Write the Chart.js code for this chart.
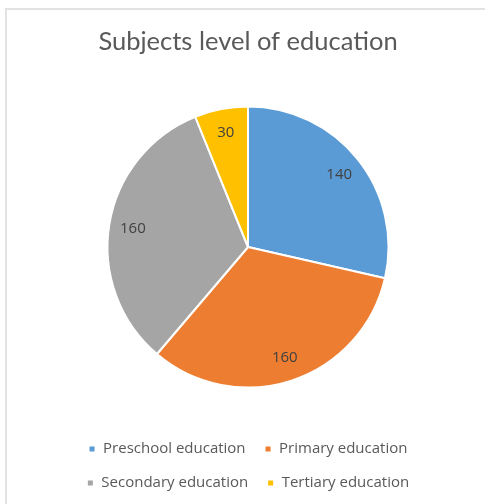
<!DOCTYPE html>
<html>
<head>
<meta charset="utf-8">
<title>Subjects level of education</title>
<script src="https://cdn.jsdelivr.net/npm/chart.js@4"></script>
<style>
    html, body {
        margin: 0;
        padding: 0;
        background: #ffffff;
        overflow: hidden;
    }
    #wrap {
        position: relative;
        width: 485px;
        height: 504px;
    }
    #frame {
        position: absolute;
        left: 5px;
        top: 8px;
        right: -10px;
        bottom: -10px;
        border-left: 2px solid #e2e2e2;
        border-top: 2px solid #e2e2e2;
        pointer-events: none;
    }
    canvas {
        position: absolute;
        left: 0;
        top: 0;
    }
</style>
</head>
<body>
<div id="wrap">
    <canvas id="eduChart" width="485" height="504"></canvas>
    <div id="frame"></div>
</div>
<script>
// Education levels and subject counts
const levels = ['Preschool education', 'Primary education', 'Secondary education', 'Tertiary education'];
const subjects = [140, 160, 160, 30];
const sliceColors = ['#5B9BD5', '#ED7D31', '#A5A5A5', '#FFC000'];

// Writes each slice's value inside the slice, toward the rim
const sliceValues = {
    id: 'sliceValues',
    afterDatasetsDraw(chart) {
        const ctx = chart.ctx;
        const meta = chart.getDatasetMeta(0);
        ctx.save();
        ctx.font = '15px "Open Sans"';
        ctx.fillStyle = '#404040';
        ctx.textAlign = 'center';
        ctx.textBaseline = 'middle';
        meta.data.forEach((arc, i) => {
            const { x, y, startAngle, endAngle, outerRadius } = arc.getProps(['x', 'y', 'startAngle', 'endAngle', 'outerRadius'], true);
            const mid = (startAngle + endAngle) / 2;
            const r = outerRadius * 0.83;
            ctx.fillText(String(chart.data.datasets[0].data[i]), x + Math.cos(mid) * r, y + Math.sin(mid) * r);
        });
        ctx.restore();
    }
};

new Chart(document.getElementById('eduChart'), {
    type: 'pie',
    data: {
        labels: levels,
        datasets: [{
            data: subjects,
            backgroundColor: sliceColors,
            borderColor: '#ffffff',
            borderWidth: 2
        }]
    },
    options: {
        responsive: false,
        animation: false,
        radius: 140.5,
        layout: {
            padding: { top: 8, bottom: 3.5, left: 11, right: 0 }
        },
        plugins: {
            title: {
                display: true,
                text: 'Subjects level of education',
                color: '#595959',
                font: { family: 'Lato', size: 25.5, weight: 'normal' },
                padding: { top: 18.7, bottom: 14.2 }
            },
            legend: {
                position: 'bottom',
                labels: {
                    color: '#595959',
                    font: { family: '"Open Sans"', size: 15 },
                    boxWidth: 7,
                    boxHeight: 7,
                    padding: 19
                }
            },
            tooltip: { enabled: false }
        }
    },
    plugins: [sliceValues]
});
</script>
</body>
</html>
